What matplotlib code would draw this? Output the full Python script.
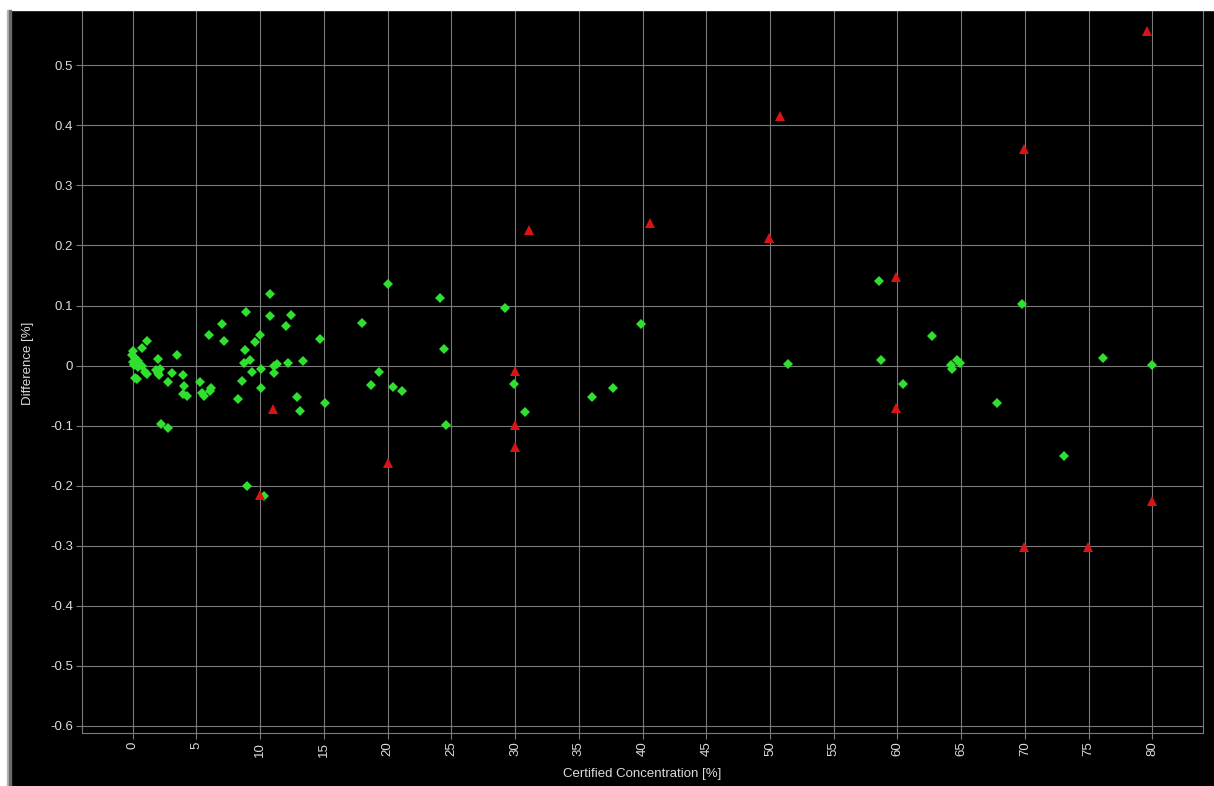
import matplotlib
matplotlib.use('Agg')
from matplotlib import pyplot as plt
from matplotlib.patches import Rectangle

# green diamonds (within tolerance)
ok_conc = [0.0, -0.05, 0.2, 0.05, 0.3, 0.45, 0.13, 0.4, 0.7, 0.15, 0.3, 0.75, 1.1,
           1.0, 1.1, 1.8, 2.0, 2.0, 2.15, 2.1, 3.1, 2.75, 3.45, 3.97, 4.05, 3.97,
           4.25, 5.3, 5.4, 5.6, 6.15, 6.1, 2.2, 2.8, 6.0, 7.0, 7.2,
           8.9, 10.8, 10.8, 12.4, 12.0, 10.0, 9.6, 8.8, 8.7, 9.2, 11.3, 11.1, 12.2,
           13.4, 10.1, 9.4, 11.05, 8.6, 10.1, 8.3, 12.9, 13.15, 15.1, 14.7, 9.0, 10.3,
           20.0, 24.1, 29.2, 18.0, 39.9, 24.4, 19.35, 18.7, 20.4, 21.15, 29.94, 30.8,
           36.0, 37.7, 24.6,
           58.55, 69.8, 62.7, 51.45, 58.7, 64.2, 64.3, 64.65, 64.9, 76.1, 79.95,
           60.4, 67.8, 73.1]
ok_diff = [0.024, 0.017, 0.012, 0.006, 0.004, 0.0075, 0.001, -0.002, 0.0, -0.02, -0.022,
           0.030, 0.041, -0.010, -0.014, -0.0075, -0.013, 0.011, -0.005, -0.016, -0.013,
           -0.028, 0.018, -0.016, -0.034, -0.048, -0.051, -0.028, -0.046, -0.050, -0.038,
           -0.043, -0.098, -0.104, 0.051, 0.070, 0.041,
           0.090, 0.119, 0.083, 0.085, 0.066, 0.051, 0.039, 0.026, 0.005, 0.010, 0.003,
           -0.001, 0.005, 0.007, -0.005, -0.010, -0.013, -0.025, -0.037, -0.056, -0.052,
           -0.075, -0.062, 0.045, -0.201, -0.218,
           0.135, 0.112, 0.096, 0.071, 0.070, 0.027, -0.010, -0.033, -0.035, -0.042,
           -0.030, -0.077, -0.052, -0.037, -0.099,
           0.140, 0.102, 0.050, 0.003, 0.009, 0.0005, -0.0065, 0.009, 0.005, 0.0127,
           0.001, -0.030, -0.062, -0.151]

# red triangles (outliers)
bad_conc = [11.0, 10.0, 31.07, 40.6, 29.97, 29.97, 29.97, 20.0, 79.6, 50.76, 69.9,
            49.95, 59.9, 59.9, 79.98, 69.9, 74.93]
bad_diff = [-0.073, -0.216, 0.226, 0.238, -0.009, -0.099, -0.136, -0.162, 0.557, 0.415,
            0.361, 0.213, 0.148, -0.071, -0.226, -0.302, -0.302]

x_ticks = list(range(0, 85, 5))
x_tick_labels = [str(t) for t in x_ticks]
y_ticks = [-0.6, -0.5, -0.4, -0.3, -0.2, -0.1, 0.0, 0.1, 0.2, 0.3, 0.4, 0.5, 0.6]
y_tick_labels = ['-0.6', '-0.5', '-0.4', '-0.3', '-0.2', '-0.1', '0',
                 '0.1', '0.2', '0.3', '0.4', '0.5', '0.6']

txt = '#dcdcdc'
grid = '#7a7a7a'
plt.rcParams['font.family'] = ['Liberation Sans', 'DejaVu Sans']

fig = plt.figure(figsize=(12.14, 7.86), dpi=100, facecolor='black')
# axes top goes a bit past the figure, the screenshot is cropped there
ax = fig.add_axes([0.0673, 0.0670, 0.9239, 0.9415])
ax.set_facecolor('black')

ax.plot(ok_conc, ok_diff, linestyle='none', marker='D', markersize=4.6,
        color='#2fe02f', markeredgewidth=0, zorder=3)
ax.plot(bad_conc, bad_diff, linestyle='none', marker='^', markersize=6.5,
        color='#d81414', markeredgewidth=0, zorder=4)

ax.set_xlim(-4, 84)
ax.set_ylim(-0.6126, 0.62)
ax.set_xticks(x_ticks)
ax.set_xticklabels(x_tick_labels, rotation=90)
ax.set_yticks(y_ticks)
ax.set_yticklabels(y_tick_labels)
ax.tick_params(colors=grid, labelcolor=txt, labelsize=9.5, length=4, width=0.8, pad=2)
ax.grid(True, color=grid, linewidth=0.8)
ax.set_axisbelow(True)
for s in ax.spines.values():
    s.set_color(grid)
    s.set_linewidth(0.8)

ax.set_xlabel('Certified Concentration [%]', color=txt, fontsize=9.5, labelpad=8)
ax.set_ylabel('Difference [%]', color=txt, fontsize=9.5, labelpad=12)

# window edges left over from the screenshot
W, H = 1214.0, 786.0
fig.patches.append(Rectangle((0, 1 - 10 / H), 1, 10 / H, transform=fig.transFigure,
                             color='white', zorder=10))
fig.patches.append(Rectangle((0, 0), 6.5 / W, 1, transform=fig.transFigure,
                             color='white', zorder=10))
fig.patches.append(Rectangle((6.5 / W, 0), 2.5 / W, 1 - 10 / H, transform=fig.transFigure,
                             color='#b4b4b4', zorder=10))
fig.patches.append(Rectangle((9 / W, 0), 2 / W, 1 - 10 / H, transform=fig.transFigure,
                             color='#6a6a6a', zorder=10))

fig.savefig('out.png', dpi=100, facecolor=fig.get_facecolor())
